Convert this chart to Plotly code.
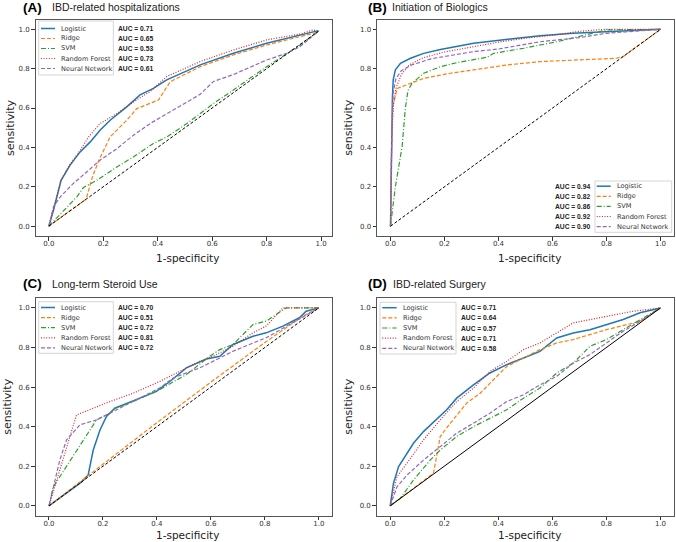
import plotly.graph_objects as go

# ROC curves (x = 1-specificity, y = sensitivity)
models = ["Logistic", "Ridge", "SVM", "Random Forest", "Neural Network"]
colors = ["#1f77b4", "#ff7f0e", "#2ca02c", "#d62728", "#9467bd"]
dashes = ["solid", "4px,2px", "5px,2px,1px,2px", "1px,1.6px", "4px,2px"]

panel_letters = ["(A)", "(B)", "(C)", "(D)"]
panel_titles = ["IBD-related hospitalizations", "Initiation of Biologics",
                "Long-term Steroid Use", "IBD-related Surgery"]
ticks = [0.0, 0.2, 0.4, 0.6, 0.8, 1.0]
tick_text = ["0.0", "0.2", "0.4", "0.6", "0.8", "1.0"]

auc_a = [0.71, 0.65, 0.53, 0.73, 0.61]
auc_b = [0.94, 0.82, 0.86, 0.92, 0.90]
auc_c = [0.70, 0.51, 0.72, 0.81, 0.72]
auc_d = [0.71, 0.64, 0.57, 0.71, 0.58]

# (A) IBD-related hospitalizations
a_log_x = [0, 0.017, 0.045, 0.078, 0.115, 0.152, 0.188, 0.225, 0.286, 0.335, 0.384, 0.433, 0.556, 0.678, 0.80, 0.923, 0.99]
a_log_y = [0, 0.081, 0.233, 0.31, 0.377, 0.428, 0.487, 0.538, 0.606, 0.667, 0.70, 0.743, 0.819, 0.878, 0.929, 0.971, 0.993]
a_rdg_x = [0, 0.137, 0.16, 0.184, 0.225, 0.286, 0.323, 0.384, 0.403, 0.446, 0.556, 0.678, 0.80, 0.923, 0.984]
a_rdg_y = [0, 0.137, 0.25, 0.335, 0.453, 0.538, 0.597, 0.63, 0.641, 0.734, 0.81, 0.87, 0.92, 0.963, 0.983]
a_svm_x = [0, 0.066, 0.103, 0.127, 0.176, 0.25, 0.311, 0.384, 0.433, 0.507, 0.556, 0.605, 0.678, 0.80, 0.923, 0.99]
a_svm_y = [0, 0.098, 0.149, 0.196, 0.233, 0.301, 0.352, 0.42, 0.453, 0.521, 0.572, 0.623, 0.692, 0.81, 0.92, 0.99]
a_rf_x = [0, 0.017, 0.045, 0.078, 0.115, 0.146, 0.188, 0.25, 0.311, 0.372, 0.433, 0.556, 0.678, 0.80, 0.923, 0.972, 0.985]
a_rf_y = [0, 0.085, 0.235, 0.315, 0.385, 0.453, 0.521, 0.572, 0.631, 0.684, 0.76, 0.836, 0.895, 0.946, 0.976, 0.997, 0.99]
a_nn_x = [0, 0.017, 0.042, 0.09, 0.14, 0.188, 0.25, 0.311, 0.372, 0.433, 0.507, 0.556, 0.605, 0.678, 0.80, 0.874, 0.923, 0.99]
a_nn_y = [0, 0.098, 0.149, 0.217, 0.276, 0.335, 0.394, 0.462, 0.521, 0.572, 0.63, 0.67, 0.735, 0.77, 0.844, 0.878, 0.912, 0.99]
a_diag = [0, 0.99]

# (B) Initiation of Biologics
b_log_x = [0, 0.003, 0.007, 0.01, 0.018, 0.037, 0.074, 0.123, 0.185, 0.308, 0.431, 0.554, 0.677, 0.80, 0.924, 1.0]
b_log_y = [0, 0.4, 0.65, 0.743, 0.794, 0.827, 0.853, 0.878, 0.898, 0.929, 0.949, 0.968, 0.98, 0.988, 0.997, 1.0]
b_rdg_x = [0, 0.005, 0.01, 0.025, 0.123, 0.222, 0.308, 0.431, 0.554, 0.677, 0.837, 0.862, 1.0]
b_rdg_y = [0, 0.5, 0.62, 0.70, 0.751, 0.777, 0.794, 0.819, 0.836, 0.844, 0.853, 0.862, 1.0]
b_svm_x = [0, 0.018, 0.043, 0.055, 0.065, 0.08, 0.123, 0.185, 0.246, 0.357, 0.382, 0.493, 0.616, 0.739, 0.80, 1.0]
b_svm_y = [0, 0.2, 0.404, 0.6, 0.69, 0.726, 0.777, 0.81, 0.831, 0.858, 0.878, 0.904, 0.937, 0.976, 0.997, 1.0]
b_rf_x = [0, 0.005, 0.01, 0.02, 0.04, 0.07, 0.12, 0.2, 0.3, 0.4, 0.5, 0.6, 0.7, 0.79, 1.0]
b_rf_y = [0, 0.45, 0.6, 0.7, 0.77, 0.82, 0.855, 0.885, 0.91, 0.935, 0.955, 0.97, 0.99, 1.0, 1.0]
b_nn_x = [0, 0.005, 0.01, 0.02, 0.04, 0.08, 0.15, 0.2, 0.308, 0.4, 0.554, 0.7, 0.80, 0.9, 1.0]
b_nn_y = [0, 0.5, 0.68, 0.75, 0.79, 0.82, 0.85, 0.862, 0.887, 0.9, 0.937, 0.958, 0.98, 0.99, 1.0]
b_diag = [0, 1.0]

# (C) Long-term Steroid Use
c_log_x = [0, 0.12, 0.145, 0.164, 0.189, 0.213, 0.244, 0.287, 0.337, 0.398, 0.448, 0.509, 0.583, 0.633, 0.682, 0.756, 0.805, 0.867, 0.928, 0.953, 1.0]
c_log_y = [0, 0.12, 0.155, 0.282, 0.383, 0.451, 0.493, 0.515, 0.544, 0.578, 0.628, 0.697, 0.742, 0.756, 0.815, 0.857, 0.874, 0.908, 0.95, 0.983, 1.0]
c_rdg_x = [0, 0.2, 0.4, 0.6, 0.8, 0.9, 0.95, 1.0]
c_rdg_y = [0, 0.21, 0.42, 0.625, 0.825, 0.92, 0.965, 1.0]
c_svm_x = [0, 0.016, 0.176, 0.226, 0.244, 0.3, 0.4, 0.509, 0.596, 0.633, 0.682, 0.756, 0.805, 0.879, 1.0]
c_svm_y = [0, 0.096, 0.434, 0.468, 0.493, 0.52, 0.58, 0.663, 0.756, 0.789, 0.815, 0.916, 0.933, 1.0, 1.0]
c_rf_x = [0, 0.102, 0.226, 0.312, 0.41, 0.46, 0.559, 0.608, 0.682, 0.756, 0.805, 0.867, 1.0]
c_rf_y = [0, 0.459, 0.527, 0.569, 0.628, 0.663, 0.73, 0.756, 0.806, 0.874, 0.908, 1.0, 1.0]
c_nn_x = [0, 0.04, 0.065, 0.115, 0.176, 0.238, 0.312, 0.41, 0.46, 0.559, 0.633, 0.682, 0.805, 0.904, 1.0]
c_nn_y = [0, 0.231, 0.333, 0.409, 0.434, 0.476, 0.527, 0.595, 0.646, 0.697, 0.747, 0.781, 0.849, 0.924, 1.0]
c_diag = [0, 1.0]

# (D) IBD-related Surgery
d_log_x = [0, 0.012, 0.031, 0.062, 0.086, 0.123, 0.185, 0.209, 0.246, 0.308, 0.369, 0.431, 0.493, 0.554, 0.616, 0.677, 0.739, 0.80, 0.862, 0.924, 1.0]
d_log_y = [0, 0.113, 0.198, 0.265, 0.316, 0.375, 0.451, 0.485, 0.544, 0.611, 0.671, 0.713, 0.747, 0.78, 0.848, 0.873, 0.89, 0.916, 0.941, 0.975, 1.0]
d_rdg_x = [0, 0.16, 0.185, 0.222, 0.283, 0.333, 0.382, 0.431, 0.493, 0.554, 0.616, 0.677, 0.80, 0.924, 0.973, 1.0]
d_rdg_y = [0, 0.164, 0.35, 0.417, 0.519, 0.569, 0.637, 0.704, 0.747, 0.789, 0.823, 0.84, 0.89, 0.932, 0.975, 1.0]
d_svm_x = [0, 0.037, 0.086, 0.148, 0.185, 0.246, 0.308, 0.369, 0.431, 0.493, 0.554, 0.616, 0.677, 0.739, 0.80, 0.862, 0.924, 1.0]
d_svm_y = [0, 0.037, 0.13, 0.231, 0.282, 0.35, 0.4, 0.443, 0.485, 0.544, 0.595, 0.671, 0.721, 0.806, 0.84, 0.89, 0.941, 1.0]
d_rf_x = [0, 0.025, 0.062, 0.123, 0.185, 0.246, 0.308, 0.369, 0.431, 0.493, 0.554, 0.616, 0.677, 0.739, 0.80, 0.899, 1.0]
d_rf_y = [0, 0.147, 0.215, 0.333, 0.434, 0.527, 0.595, 0.679, 0.73, 0.789, 0.823, 0.873, 0.924, 0.941, 0.958, 0.983, 1.0]
d_nn_x = [0, 0.025, 0.062, 0.123, 0.185, 0.246, 0.308, 0.369, 0.431, 0.493, 0.554, 0.616, 0.677, 0.739, 0.80, 0.862, 0.924, 1.0]
d_nn_y = [0, 0.096, 0.155, 0.231, 0.299, 0.367, 0.417, 0.468, 0.527, 0.561, 0.611, 0.654, 0.721, 0.764, 0.823, 0.882, 0.932, 1.0]
d_diag = [0, 1.0]

W, H = 676, 542


def px(x):
    return x / W


def py(y):
    return 1 - y / H


curves = [
    [(a_log_x, a_log_y), (a_rdg_x, a_rdg_y), (a_svm_x, a_svm_y), (a_rf_x, a_rf_y), (a_nn_x, a_nn_y)],
    [(b_log_x, b_log_y), (b_rdg_x, b_rdg_y), (b_svm_x, b_svm_y), (b_rf_x, b_rf_y), (b_nn_x, b_nn_y)],
    [(c_log_x, c_log_y), (c_rdg_x, c_rdg_y), (c_svm_x, c_svm_y), (c_rf_x, c_rf_y), (c_nn_x, c_nn_y)],
    [(d_log_x, d_log_y), (d_rdg_x, d_rdg_y), (d_svm_x, d_svm_y), (d_rf_x, d_rf_y), (d_nn_x, d_nn_y)],
]
diags = [a_diag, b_diag, c_diag, d_diag]
diag_dash = ["3px,2px", "3px,2px", "3px,2px", "solid"]
aucs = [auc_a, auc_b, auc_c, auc_d]

# plot boxes in pixels: left, right, top, bottom
boxes = [(35.5, 332, 20, 236), (377, 674, 19.5, 236),
         (35.5, 332.3, 298, 515.7), (376.7, 674, 298, 515.7)]
xranges = [[-0.049, 1.04], [-0.05, 1.05], [-0.05, 1.05], [-0.05, 1.05]]
yranges = [[-0.05, 1.047], [-0.05, 1.05], [-0.05, 1.05], [-0.05, 1.05]]
xtitle_y = [258.5, 258.5, 535, 535]
ytitle_x = [10, 349, 8, 349]

# legend layout: box, first row y, row step, sample x0/x1, text x, auc x, auc anchor
legends = [
    dict(box=(38.7, 21, 113.3, 75), y0=28.5, dy=10.0, lx=(41, 55), tx=60, ax=116.7, anc="left"),
    dict(box=(595, 181, 671.7, 232.3), y0=186.2, dy=10.1, lx=(596.7, 610.7), tx=616, ax=591, anc="right"),
    dict(box=(38.7, 301.7, 113.3, 353.3), y0=307.5, dy=10.1, lx=(41, 55), tx=60, ax=117.3, anc="left"),
    dict(box=(380, 302.3, 456, 354), y0=307.7, dy=10.15, lx=(382.3, 396.7), tx=401.7, ax=460, anc="left"),
]
title_pos = [(21, 50, 7), (366, 390, 7), (21, 50, 283), (366, 391, 283)]

fig = go.Figure()
shapes = []
annotations = []
tick_font = dict(family="DejaVu Sans", size=7, color="#333")

for p in range(4):
    sfx = "" if p == 0 else str(p + 1)
    xa, ya = "x" + sfx, "y" + sfx
    for m in range(5):
        xs, ys = curves[p][m]
        fig.add_trace(go.Scatter(
            x=xs, y=ys, mode="lines", name=models[m], showlegend=False,
            line=dict(color=colors[m], width=1.5 if m == 0 else 1.2, dash=dashes[m]),
            xaxis=xa, yaxis=ya))
    fig.add_trace(go.Scatter(
        x=diags[p], y=diags[p], mode="lines", showlegend=False,
        line=dict(color="black", width=1, dash=diag_dash[p]), xaxis=xa, yaxis=ya))

    l, r, t, b = boxes[p]
    axis_common = dict(showgrid=False, zeroline=False, showline=True, mirror=True,
                       linecolor="#555", linewidth=1, ticks="outside", ticklen=3.5,
                       tickcolor="#333", tickfont=tick_font, tickvals=ticks,
                       ticktext=tick_text)
    fig.update_layout(**{
        "xaxis" + sfx: dict(domain=[px(l), px(r)], range=xranges[p], anchor=ya,
                            ticklabelstandoff=-3, **axis_common),
        "yaxis" + sfx: dict(domain=[py(b), py(t)], range=yranges[p], anchor=xa, **axis_common),
    })

    # axis titles
    annotations.append(dict(text="1-specificity", x=px((l + r) / 2 + 4), y=py(xtitle_y[p]),
                            xref="paper", yref="paper", showarrow=False,
                            xanchor="center", yanchor="middle",
                            font=dict(family="DejaVu Sans", size=10.5, color="#222")))
    annotations.append(dict(text="sensitivity", x=px(ytitle_x[p]), y=py((t + b) / 2),
                            xref="paper", yref="paper", showarrow=False, textangle=-90,
                            xanchor="center", yanchor="middle",
                            font=dict(family="DejaVu Sans", size=11, color="#222")))

    # panel titles
    lx0, tx0, ty0 = title_pos[p]
    annotations.append(dict(text="<b>" + panel_letters[p] + "</b>", x=px(lx0), y=py(ty0),
                            xref="paper", yref="paper", showarrow=False, xanchor="left",
                            yanchor="middle",
                            font=dict(family="Liberation Sans", size=13.5, color="black")))
    annotations.append(dict(text=panel_titles[p], x=px(tx0), y=py(ty0 + 0.5),
                            xref="paper", yref="paper", showarrow=False, xanchor="left",
                            yanchor="middle",
                            font=dict(family="Liberation Sans", size=10.5, color="#222")))

    # legend
    lg = legends[p]
    bx0, by0, bx1, by1 = lg["box"]
    shapes.append(dict(type="rect", xref="paper", yref="paper",
                       x0=px(bx0), x1=px(bx1), y0=py(by1), y1=py(by0),
                       line=dict(color="#d5d5d5", width=1), fillcolor="white", layer="above"))
    for m in range(5):
        yy = lg["y0"] + m * lg["dy"]
        shapes.append(dict(type="line", xref="paper", yref="paper",
                           x0=px(lg["lx"][0]), x1=px(lg["lx"][1]), y0=py(yy), y1=py(yy),
                           line=dict(color=colors[m], width=1.5 if m == 0 else 1.2,
                                     dash=dashes[m]), layer="above"))
        annotations.append(dict(text=models[m], x=px(lg["tx"]), y=py(yy), xref="paper",
                                yref="paper", showarrow=False, xanchor="left",
                                yanchor="middle", borderpad=0,
                                font=dict(family="DejaVu Sans", size=6.6, color="#333")))
        annotations.append(dict(text="<b>AUC = %.2f</b>" % aucs[p][m], x=px(lg["ax"]),
                                y=py(yy), xref="paper", yref="paper", showarrow=False,
                                xanchor=lg["anc"], yanchor="middle", borderpad=0,
                                font=dict(family="Liberation Sans", size=6.7, color="#222")))

fig.update_layout(width=W, height=H, margin=dict(l=0, r=0, t=0, b=0),
                  paper_bgcolor="white", plot_bgcolor="white",
                  shapes=shapes, annotations=annotations)
# the page body has a default 8px margin; drop it so the figure sits at the window corner
fig.write_html("out.html", config={"displayModeBar": False},
               post_script="document.body.style.margin='0';")
